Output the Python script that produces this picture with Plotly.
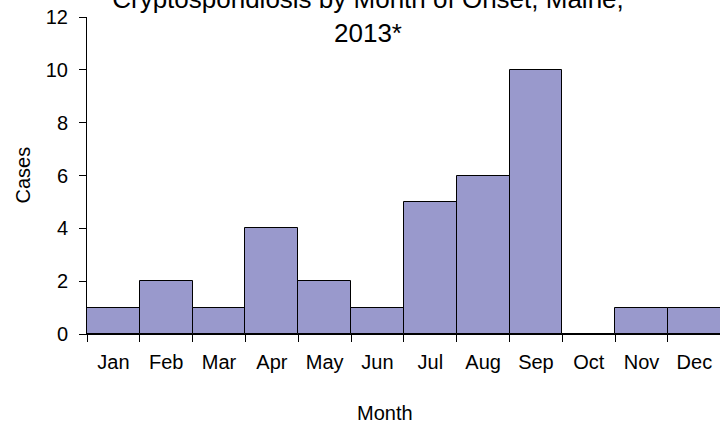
import plotly.graph_objects as go

# Monthly counts of cryptosporidiosis cases by month of onset
months = ["Jan", "Feb", "Mar", "Apr", "May", "Jun",
          "Jul", "Aug", "Sep", "Oct", "Nov", "Dec"]
cases = [1, 2, 1, 4, 2, 1, 5, 6, 10, 0, 1, 1]
y_ticks = [0, 2, 4, 6, 8, 10, 12]

title_text = "Cryptosporidiosis by Month of Onset, Maine,<br>2013*"
x_title = "Month"
y_title = "Cases"

W, H = 720, 423
L, T, B = 87, 17, 89          # plot area: x 87..720, y 17..334
PW, PH = W - L, H - T - B
FONT = "Liberation Sans, Arial, sans-serif"

fig = go.Figure(
    go.Bar(
        x=months,
        y=cases,
        marker=dict(color="#9999CC", line=dict(color="black", width=1)),
    )
)

fig.update_layout(
    width=W,
    height=H,
    margin=dict(l=L, r=0, t=T, b=B),
    paper_bgcolor="white",
    plot_bgcolor="white",
    bargap=0,
    showlegend=False,
    font=dict(family=FONT, color="black", size=20),
    title=dict(
        text=title_text,
        font=dict(family=FONT, size=26, color="black"),
        xref="container", yref="container",
        x=368 / W, y=1 - 8 / H,
        xanchor="center", yanchor="middle",
    ),
    annotations=[
        dict(text=x_title, xref="paper", yref="paper",
             x=(385 - L) / PW, y=-(413 - (H - B)) / PH,
             xanchor="center", yanchor="middle", showarrow=False,
             font=dict(family=FONT, size=20, color="black")),
        dict(text=y_title, xref="paper", yref="paper",
             x=-(L - 22) / PW, y=0.5,
             xanchor="center", yanchor="middle", showarrow=False,
             textangle=-90,
             font=dict(family=FONT, size=20, color="black")),
    ],
)

fig.update_xaxes(
    type="category",
    range=[-0.5, 11.485],
    showline=True, linecolor="black", linewidth=1,
    ticks="outside", tickson="boundaries", ticklen=7,
    tickcolor="black", tickwidth=1,
    ticklabelstandoff=10,
    tickfont=dict(family=FONT, size=20, color="black"),
    showgrid=False, zeroline=False,
)

fig.update_yaxes(
    range=[0, 12],
    tickvals=y_ticks,
    showline=True, linecolor="black", linewidth=1,
    ticks="outside", ticklen=7, tickcolor="black", tickwidth=1,
    ticklabelstandoff=7,
    tickfont=dict(family=FONT, size=20, color="black"),
    showgrid=False, zeroline=False,
)

fig.write_html("out.html")
